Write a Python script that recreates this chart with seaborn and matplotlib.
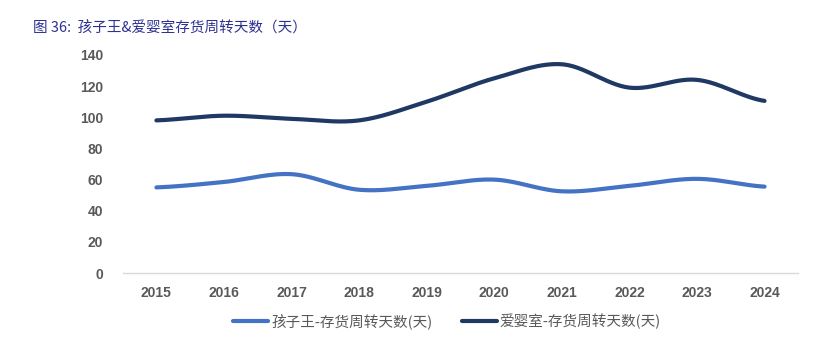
import numpy as np
import pandas as pd
import matplotlib
matplotlib.use('Agg')
import matplotlib.pyplot as plt
import seaborn as sns

# 数据
years = ['2015', '2016', '2017', '2018', '2019', '2020', '2021', '2022', '2023', '2024']
kidswant = [55, 58.5, 63.5, 53.5, 56, 60, 52.5, 56, 60.5, 55.5]
aiyingshi = [98, 101, 99, 98, 110, 125, 134, 119, 124, 110.5]
series_names = ['孩子王-存货周转天数(天)', '爱婴室-存货周转天数(天)']
colors = ['#4472C4', '#1F3864']

sns.set_theme(style='white')
plt.rcParams['font.family'] = ['Liberation Sans', 'Noto Sans CJK SC', 'DejaVu Sans']


def smooth(y, n=30):
    # Catmull-Rom 曲线, 类似 Excel 平滑线
    y = np.asarray(y, dtype=float)
    p = np.concatenate([[y[0]], y, [y[-1]]])
    xs, ys = [], []
    for i in range(len(y) - 1):
        p0, p1, p2, p3 = p[i], p[i + 1], p[i + 2], p[i + 3]
        t = np.linspace(0, 1, n, endpoint=False)
        v = 0.5 * (2 * p1 + (-p0 + p2) * t + (2 * p0 - 5 * p1 + 4 * p2 - p3) * t ** 2
                   + (-p0 + 3 * p1 - 3 * p2 + p3) * t ** 3)
        xs.extend(i + t)
        ys.extend(v)
    xs.append(len(y) - 1)
    ys.append(y[-1])
    return np.array(xs), np.array(ys)


frames = []
for name, vals in zip(series_names, [kidswant, aiyingshi]):
    sx, sy = smooth(vals)
    frames.append(pd.DataFrame({'x': sx, 'y': sy, 'series': name}))
df = pd.concat(frames)

fig = plt.figure(figsize=(8.23, 3.52), dpi=100)
ax = fig.add_axes([0.149, 0.224, 0.821, 0.62])
sns.lineplot(data=df, x='x', y='y', hue='series', palette=colors, linewidth=3,
             sort=False, ax=ax, legend=True)

ax.set_xlim(-0.5, len(years) - 0.5)
ax.set_ylim(0, 140)
ax.set_yticks(range(0, 141, 20))
ax.set_xticks(range(len(years)))
ax.set_xticklabels(years)
ax.set_xticks(np.arange(-0.5, len(years), 1), minor=True)
ax.set_xlabel('')
ax.set_ylabel('')
for s in ['top', 'right', 'left']:
    ax.spines[s].set_visible(False)
ax.spines['bottom'].set_color('#D9D9D9')
ax.spines['bottom'].set_linewidth(1)
ax.tick_params(axis='x', which='major', length=0, pad=9, labelsize=10, labelcolor='#595959')
ax.tick_params(axis='x', which='minor', length=5, color='#D9D9D9', width=1)
ax.tick_params(axis='y', length=0, pad=14, labelsize=10, labelcolor='#595959')
for lab in ax.get_xticklabels() + ax.get_yticklabels():
    lab.set_fontweight('bold')

handles, labels = ax.get_legend_handles_labels()
leg = ax.legend(handles, labels, loc='upper center', bbox_to_anchor=(0.48, -0.125), ncol=2,
                frameon=False, fontsize=10.5, handlelength=2.4, handletextpad=0.2,
                columnspacing=2.0, labelcolor='#595959')
for t in leg.get_texts():
    t.set_family(['Noto Sans CJK SC', 'DejaVu Sans'])

fig.text(0.04, 0.91, '图 36:  孩子王&爱婴室存货周转天数（天）', fontsize=10.5,
         color='#2E3192', family=['Noto Sans CJK SC', 'DejaVu Sans'])

fig.savefig('out.png', dpi=100)
